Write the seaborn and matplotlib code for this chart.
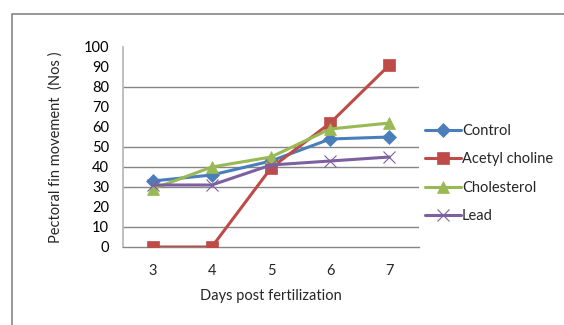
import matplotlib
matplotlib.use("Agg")
import matplotlib.pyplot as plt
import seaborn as sns
import pandas as pd
from matplotlib.patches import Rectangle

days = [3, 4, 5, 6, 7]
control = [33, 36, 43, 54, 55]
acetyl_choline = [0, 0, 39.5, 62, 91]
cholesterol = [29, 40, 45, 59, 62]
lead = [31, 31, 41, 43, 45]
series_names = ["Control", "Acetyl choline", "Cholesterol", "Lead"]
y_ticks = [0, 10, 20, 30, 40, 50, 60, 70, 80, 90, 100]
grid_levels = [10, 30, 40, 50, 80]

rows = []
for name, vals in zip(series_names, [control, acetyl_choline, cholesterol, lead]):
    for d, v in zip(days, vals):
        rows.append({"Day": d, "Value": v, "Series": name})
df = pd.DataFrame(rows)

sns.set_theme(style="white")
plt.rcParams["font.family"] = ["Lato", "DejaVu Sans"]

colors = {"Control": "#4A7EBB", "Acetyl choline": "#BE4B48",
          "Cholesterol": "#98B954", "Lead": "#7D60A0"}
markers = {"Control": "D", "Acetyl choline": "s", "Cholesterol": "^", "Lead": "x"}
msizes = {"Control": 7, "Acetyl choline": 9, "Cholesterol": 9, "Lead": 9}

fig = plt.figure(figsize=(5.64, 3.25), dpi=100)
ax = fig.add_axes([123/564, 1-247/325, (419-123)/564, (247-47)/325])

for gl in grid_levels:
    ax.axhline(gl, color="#868686", lw=1.0, zorder=0)

for name in series_names:
    sub = df[df["Series"] == name]
    sns.lineplot(data=sub, x="Day", y="Value", ax=ax, color=colors[name],
                 marker=markers[name], markersize=msizes[name], linewidth=2.2,
                 markeredgecolor=colors[name],
                 markeredgewidth=0.8 if name == "Lead" else 0.5,
                 label=name, zorder=3)

ax.set_xlim(2.5, 7.5)
ax.set_ylim(0, 100)
ax.set_yticks(y_ticks)
ax.set_yticklabels([str(t) for t in y_ticks], fontsize=10.5, color="#000000")
ax.set_xticks(days)
ax.set_xticklabels([str(d) for d in days], fontsize=10.5)
ax.set_xticks([2.5 + i for i in range(6)], minor=True)
ax.tick_params(axis="x", which="major", length=0, pad=12)
ax.tick_params(axis="x", which="minor", length=5, color="#868686", width=1, direction="out")
ax.tick_params(axis="y", which="major", length=0, pad=10)

for s in ["top", "right"]:
    ax.spines[s].set_visible(False)
ax.spines["left"].set_color("#b4b4b4")
ax.spines["left"].set_linewidth(1.2)
ax.spines["bottom"].set_color("#868686")
ax.spines["bottom"].set_linewidth(1.0)

ax.set_xlabel("Days post fertilization", fontsize=10.5, labelpad=8)
ax.set_ylabel("Pectoral fin movement  (Nos )", fontsize=10.5, labelpad=15)

leg = ax.legend(loc="upper left", bbox_to_anchor=(0.985, 0.665), frameon=False,
                fontsize=10.5, handlelength=2.5, handletextpad=0.05,
                labelspacing=0.98, borderaxespad=0.3)

fig.patches.append(Rectangle((12/564, -0.1), 1.0, 1 - 14/325 + 0.1,
                             transform=fig.transFigure, fill=False,
                             edgecolor="#868686", lw=1.2))

fig.savefig("out.png", dpi=100)
